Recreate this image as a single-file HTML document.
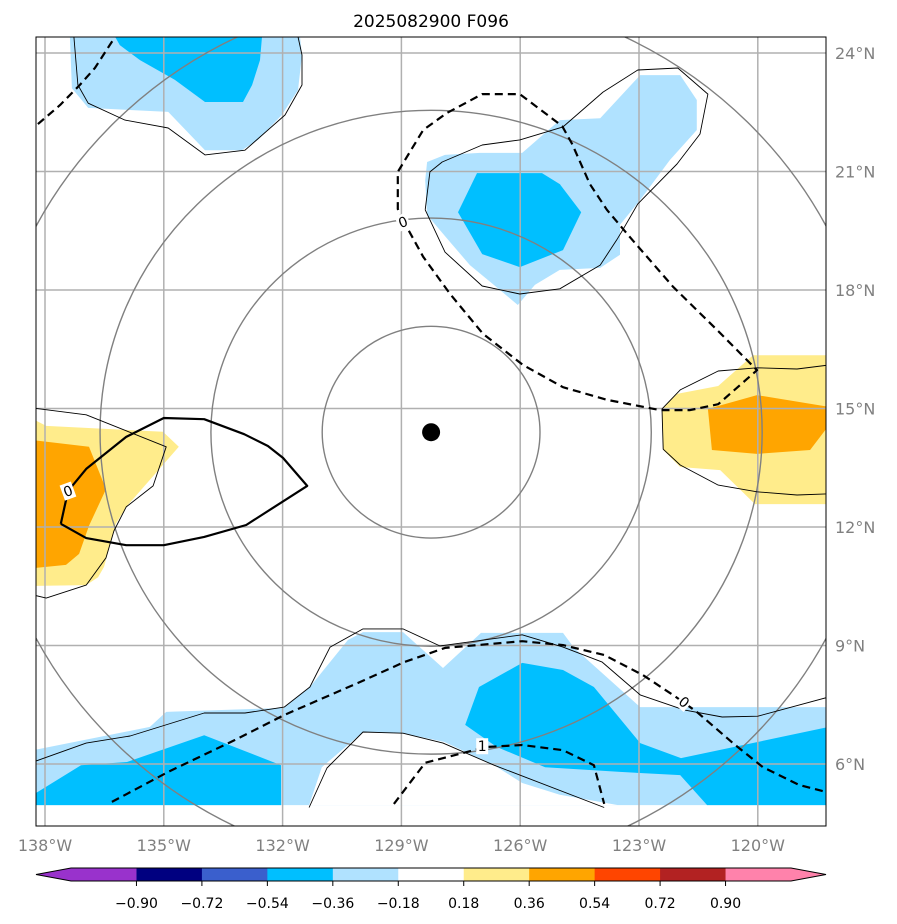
<!DOCTYPE html>
<html><head><meta charset="utf-8"><style>
html,body{margin:0;padding:0;background:#fff;}
svg{display:block;font-family:"DejaVu Sans","Liberation Sans",sans-serif;}
</style></head><body>
<svg id="chart" width="897" height="924" viewBox="0 0 897 924" xmlns="http://www.w3.org/2000/svg">
<defs><clipPath id="mapclip"><rect x="36" y="37" width="790" height="789"/></clipPath></defs>
<text x="431" y="27" text-anchor="middle" font-size="17" fill="#000">2025082900 F096</text>
<g id="map" clip-path="url(#mapclip)"></g>
<rect x="36" y="37" width="790" height="789" fill="none" stroke="#000" stroke-width="1"/>
<g id="ticks"></g>
<g id="cbar"></g>
</svg>
<script>
// ---- data ----
const lonTicks = [-138, -135, -132, -129, -126, -123, -120];
const latTicks = [6, 9, 12, 15, 18, 21, 24];
const stormCenter = [-128.25, 14.4];
const ringRadiiLon = [2.75, 5.56, 8.36, 11.3];
const ringRadiiLat = [2.68, 5.42, 8.15, 11.1];
const cbarLevels = [-0.90, -0.72, -0.54, -0.36, -0.18, 0.18, 0.36, 0.54, 0.72, 0.90];
const cbarColors = ["#9932CC","#000080","#3A5FCD","#00BFFF","#B0E2FF","#FFFFFF","#FFEC8B","#FFA500","#FF4500","#B22222","#FF82AB"];

const lbTopLeft = [[-137.37,24.41],[-131.56,24.41],[-131.51,23.95],[-131.61,23.06],[-132.02,22.43],[-132.62,21.8],[-133.03,21.54],[-133.96,21.54],[-134.89,22.51],[-136.91,22.61],[-137.32,23.11]];
const dbTopLeft = [[-136.23,24.41],[-132.52,24.41],[-132.57,23.82],[-132.77,23.19],[-133.0,22.76],[-133.96,22.76],[-134.72,23.32],[-135.6,23.82],[-136.11,24.2]];
const lbTopRight = [[-128.35,21.24],[-127.9,21.42],[-127.02,21.47],[-125.95,21.47],[-125.0,22.3],[-123.98,22.35],[-122.97,23.44],[-121.96,23.44],[-121.54,22.81],[-121.54,22.05],[-122.22,21.29],[-122.97,20.28],[-123.48,19.65],[-123.48,18.89],[-123.98,18.56],[-125.0,18.51],[-125.63,18.13],[-126.06,17.62],[-126.51,18.0],[-127.27,18.63],[-127.82,19.27],[-128.35,19.9],[-128.4,20.78]];
const dbTopRight = [[-127.09,20.96],[-125.45,20.96],[-125.0,20.68],[-124.46,19.97],[-124.92,19.01],[-126.01,18.58],[-126.96,18.91],[-127.57,19.97]];
const yelRight = [[-122.42,14.99],[-122.04,15.37],[-121.0,15.57],[-120.12,16.35],[-118.2,16.35],[-118.2,12.58],[-120.07,12.58],[-120.95,13.44],[-121.96,13.52],[-122.39,13.95]];
const orRight = [[-121.26,14.99],[-120.02,15.34],[-118.2,15.04],[-118.2,14.58],[-118.68,13.95],[-120.02,13.85],[-121.16,13.95]];
const yelLeft = [[-138.3,14.73],[-137.97,14.56],[-135.02,14.41],[-134.62,14.03],[-135.95,12.51],[-136.21,12.08],[-136.51,10.99],[-136.66,10.73],[-136.96,10.53],[-138.3,10.51]];
const orLeft = [[-138.3,14.2],[-136.89,14.03],[-136.46,12.96],[-136.89,12.03],[-137.14,11.32],[-137.47,11.04],[-138.3,10.96]];
const lbBottom = [[-138.3,6.35],[-135.35,6.94],[-134.94,7.32],[-131.96,7.42],[-131.31,7.95],[-130.35,9.14],[-129.97,9.34],[-128.96,9.34],[-127.95,8.43],[-126.99,9.32],[-124.92,9.32],[-124.64,8.94],[-122.97,7.44],[-118.2,7.44],[-118.2,4.96],[-138.3,4.96]];
const holeBottom = [[-131.33,4.96],[-131.01,5.92],[-129.97,6.81],[-128.96,6.78],[-127.92,6.56],[-126.66,5.97],[-125.95,5.52],[-125.0,5.22],[-123.53,4.96]];
const dbBottomMid = [[-127.39,6.99],[-127.04,7.95],[-125.95,8.56],[-124.92,8.38],[-124.14,7.95],[-122.97,6.53],[-121.94,6.15],[-118.2,6.94],[-118.2,4.96],[-121.28,4.96],[-121.96,5.72],[-123.48,5.8],[-125.37,5.92],[-126.59,6.43]];
const dbBottomLeft = [[-138.3,5.22],[-137.09,5.97],[-135.93,6.05],[-133.98,6.73],[-132.04,5.97],[-132.04,4.96],[-138.3,4.96]];

const thinTopLeft = [[-137.27,24.41],[-137.17,23.19],[-136.91,22.73],[-135.98,22.3],[-134.89,22.1],[-133.96,21.42],[-132.95,21.54],[-131.94,22.43],[-131.51,23.19],[-131.51,23.95],[-131.61,24.41]];
const thinTopRight = [[-128.4,20.03],[-128.28,20.99],[-127.97,21.24],[-126.96,21.67],[-126.01,21.8],[-124.92,22.13],[-123.91,23.01],[-123.03,23.57],[-122.02,23.62],[-121.26,22.96],[-121.46,21.95],[-122.04,21.19],[-123.03,20.18],[-123.4,19.54],[-123.56,19.27],[-123.98,18.63],[-125.0,18.03],[-126.01,17.9],[-126.96,18.1],[-127.9,18.96],[-128.4,20.03]];
const thinRight = [[-118.2,16.1],[-119.01,16.0],[-120.02,16.03],[-121.0,15.95],[-121.96,15.47],[-122.42,14.99],[-122.39,13.97],[-121.96,13.57],[-121.0,13.06],[-120.02,12.89],[-119.01,12.81],[-118.2,12.84]];
const thinLeft = [[-138.3,15.01],[-136.96,14.84],[-134.94,14.03],[-135.27,13.04],[-135.95,12.51],[-136.26,11.9],[-136.46,11.22],[-136.96,10.53],[-137.97,10.2],[-138.3,10.28]];
const thinBottomUpper = [[-138.3,6.05],[-136.96,6.53],[-135.85,6.71],[-133.98,7.29],[-132.95,7.29],[-131.96,7.44],[-131.31,7.95],[-130.8,8.96],[-129.97,9.42],[-128.96,9.42],[-128.03,8.99],[-125.95,9.27],[-124.92,8.96],[-123.93,8.58],[-122.97,7.75],[-121.86,7.37],[-120.9,7.19],[-120.0,7.21],[-118.2,7.7]];
const thinBottomLower = [[-131.33,4.9],[-130.88,5.9],[-129.97,6.81],[-128.96,6.78],[-127.95,6.53],[-126.66,5.97],[-123.88,4.9]];

const thickLeft = [[-137.6,12.08],[-137.42,12.91],[-136.96,13.47],[-135.95,14.28],[-135.0,14.76],[-133.98,14.73],[-132.97,14.35],[-132.37,14.05],[-131.99,13.75],[-131.38,13.04],[-132.92,12.05],[-133.98,11.75],[-135.0,11.54],[-135.95,11.54],[-136.96,11.72],[-137.6,12.08]];
const dashTopLeft = [[-138.18,22.2],[-137.62,22.68],[-137.12,23.19],[-136.74,23.62],[-136.23,24.41]];
const dashTopRight = [[-128.96,19.72],[-129.09,20.05],[-129.09,20.99],[-128.45,22.05],[-127.85,22.48],[-126.96,22.96],[-126.01,22.96],[-124.94,22.15],[-124.69,21.7],[-124.24,20.68],[-123.81,20.03],[-123.23,19.34],[-122.14,18.08],[-121.03,16.99],[-120.02,15.97],[-121.0,15.11],[-121.71,14.96],[-122.47,14.96],[-123.81,15.22],[-124.92,15.54],[-125.93,16.1],[-126.94,16.89],[-127.77,17.9],[-128.45,18.84],[-128.86,19.59]];
const dashBottom = [[-136.31,5.04],[-134.89,5.8],[-133.2,6.61],[-131.96,7.24],[-130.1,8.05],[-128.93,8.58],[-127.9,8.94],[-125.95,9.11],[-124.92,9.01],[-123.88,8.76],[-122.9,8.25],[-122.07,7.7],[-121.54,7.32],[-120.63,6.53],[-119.87,5.92],[-118.96,5.47],[-118.2,5.27]];
const dashOne = [[-129.19,4.99],[-128.4,6.03],[-126.86,6.43],[-125.95,6.48],[-124.92,6.35],[-124.14,5.97],[-123.88,4.99]];
const contourLabels = [["0",-128.96,19.72,-20],["0",-137.42,12.91,-20],["0",-121.86,7.57,40],["1",-126.96,6.45,0]];

// ---- axes ----
const X = lon => 45 + (lon + 138) * 39.6;
const Y = lat => 53 + (24 - lat) * 39.5;
const NS = "http://www.w3.org/2000/svg";
const map = document.getElementById('map');
function mk(tag, attrs, parent){const e=document.createElementNS(NS,tag);for(const k in attrs)e.setAttribute(k,attrs[k]);parent.appendChild(e);return e;}
const pts = arr => arr.map(p => X(p[0]).toFixed(1)+','+Y(p[1]).toFixed(1)).join(' ');

function fill(arr, color, name){
  const e = mk('polygon',{points:pts(arr),fill:color,stroke:'none'},map);
  
  
}
fill(lbTopLeft,'#B0E2FF','fill-light-blue-top-left');
fill(dbTopLeft,'#00BFFF','fill-blue-top-left');
fill(lbTopRight,'#B0E2FF','fill-light-blue-top-right');
fill(dbTopRight,'#00BFFF','fill-blue-top-right');
fill(yelRight,'#FFEC8B','fill-yellow-right');
fill(orRight,'#FFA500','fill-orange-right');
fill(yelLeft,'#FFEC8B','fill-yellow-left');
fill(orLeft,'#FFA500','fill-orange-left');
fill(lbBottom,'#B0E2FF','fill-light-blue-bottom');
fill(holeBottom,'#FFFFFF','fill-white-bottom');
fill(dbBottomMid,'#00BFFF','fill-blue-bottom-middle');
fill(dbBottomLeft,'#00BFFF','fill-blue-bottom-left');

// grid
lonTicks.forEach(l=>{
  const e=mk('line',{x1:X(l),x2:X(l),y1:37,y2:826,stroke:'#b0b0b0','stroke-width':1.5},map);
  
  
});
latTicks.forEach(l=>{
  const e=mk('line',{x1:36,x2:826,y1:Y(l),y2:Y(l),stroke:'#b0b0b0','stroke-width':1.5},map);
  
  
});
// rings
ringRadiiLon.forEach((r,i)=>{
  const e=mk('ellipse',{cx:X(stormCenter[0]),cy:Y(stormCenter[1]),rx:r*39.6,ry:ringRadiiLat[i]*39.5,fill:'none',stroke:'#808080','stroke-width':1.4},map);
  
  
});

function line(arr, w, dash, name){
  const a={points:pts(arr),fill:'none',stroke:'#000','stroke-width':w,'stroke-linejoin':'round'};
  if(dash) a['stroke-dasharray']=dash;
  const e=mk('polyline',a,map);
  
  
}
line(thinTopLeft,0.9,null,'contour-thin-top-left');
line(thinTopRight,0.9,null,'contour-thin-top-right');
line(thinRight,0.9,null,'contour-thin-right');
line(thinLeft,0.9,null,'contour-thin-left');
line(thinBottomUpper,0.9,null,'contour-thin-bottom-upper');
line(thinBottomLower,0.9,null,'contour-thin-bottom-lower');
line(thickLeft,2.2,null,'contour-solid-left');
line(dashTopLeft,2.2,'8,5','contour-dashed-top-left');
line(dashTopRight,2.2,'8,5','contour-dashed-top-right');
line(dashBottom,2.2,'8,5','contour-dashed-bottom');
line(dashOne,2.2,'8,5','contour-dashed-one');

contourLabels.forEach(c=>{
  const x=X(c[1]), y=Y(c[2]);
  const r=mk('rect',{x:x-6,y:y-8,width:12,height:16,fill:'#fff',transform:`rotate(${c[3]} ${x} ${y})`},map);
  
  
  const t=mk('text',{x:x,y:y+5,'text-anchor':'middle','font-size':14,fill:'#000',transform:`rotate(${c[3]} ${x} ${y})`},map);
  t.textContent=c[0];
  
  
});

const dot=mk('circle',{cx:X(stormCenter[0]),cy:Y(stormCenter[1]),r:9,fill:'#000'},map);



// tick labels
const ticks=document.getElementById('ticks');
lonTicks.forEach(l=>{
  const t=mk('text',{x:X(l),y:851,'text-anchor':'middle','font-size':16,fill:'#808080'},ticks);
  t.textContent=Math.abs(l)+'°W';
  
  
});
latTicks.forEach(l=>{
  const t=mk('text',{x:835,y:Y(l)+6,'text-anchor':'start','font-size':16,fill:'#808080'},ticks);
  t.textContent=l+'°N';
  
  
});

// colorbar
const cb=document.getElementById('cbar');
const cbX0=71, cbX1=791, cbY=868, cbH=13, tipL=36, tipR=826;
const bw=(cbX1-cbX0)/cbarColors.length;
const CX = i => cbX0 + i*bw;
const n=cbarColors.length;
cbarColors.forEach((c,i)=>{
  let e;
  if(i===0) e=mk('polygon',{points:`${tipL},${cbY+cbH/2} ${cbX0},${cbY} ${CX(1)},${cbY} ${CX(1)},${cbY+cbH} ${cbX0},${cbY+cbH}`,fill:c},cb);
  else if(i===n-1) e=mk('polygon',{points:`${CX(i)},${cbY} ${cbX1},${cbY} ${tipR},${cbY+cbH/2} ${cbX1},${cbY+cbH} ${CX(i)},${cbY+cbH}`,fill:c},cb);
  else e=mk('rect',{x:CX(i),y:cbY,width:bw+0.5,height:cbH,fill:c},cb);
  
  
});
const outline=mk('polygon',{points:`${tipL},${cbY+cbH/2} ${cbX0},${cbY} ${cbX1},${cbY} ${tipR},${cbY+cbH/2} ${cbX1},${cbY+cbH} ${cbX0},${cbY+cbH}`,fill:'none',stroke:'#000','stroke-width':1},cb);


cbarLevels.forEach((v,i)=>{
  const x=CX(i+1);
  const tk=mk('line',{x1:x,x2:x,y1:cbY+cbH,y2:cbY+cbH+5,stroke:'#000','stroke-width':1},cb);
  
  
  const t=mk('text',{x:x,y:908,'text-anchor':'middle','font-size':14,fill:'#000'},cb);
  t.textContent=(v<0?'\u2212':'')+Math.abs(v).toFixed(2);
  
  
});
</script>
</body></html>
